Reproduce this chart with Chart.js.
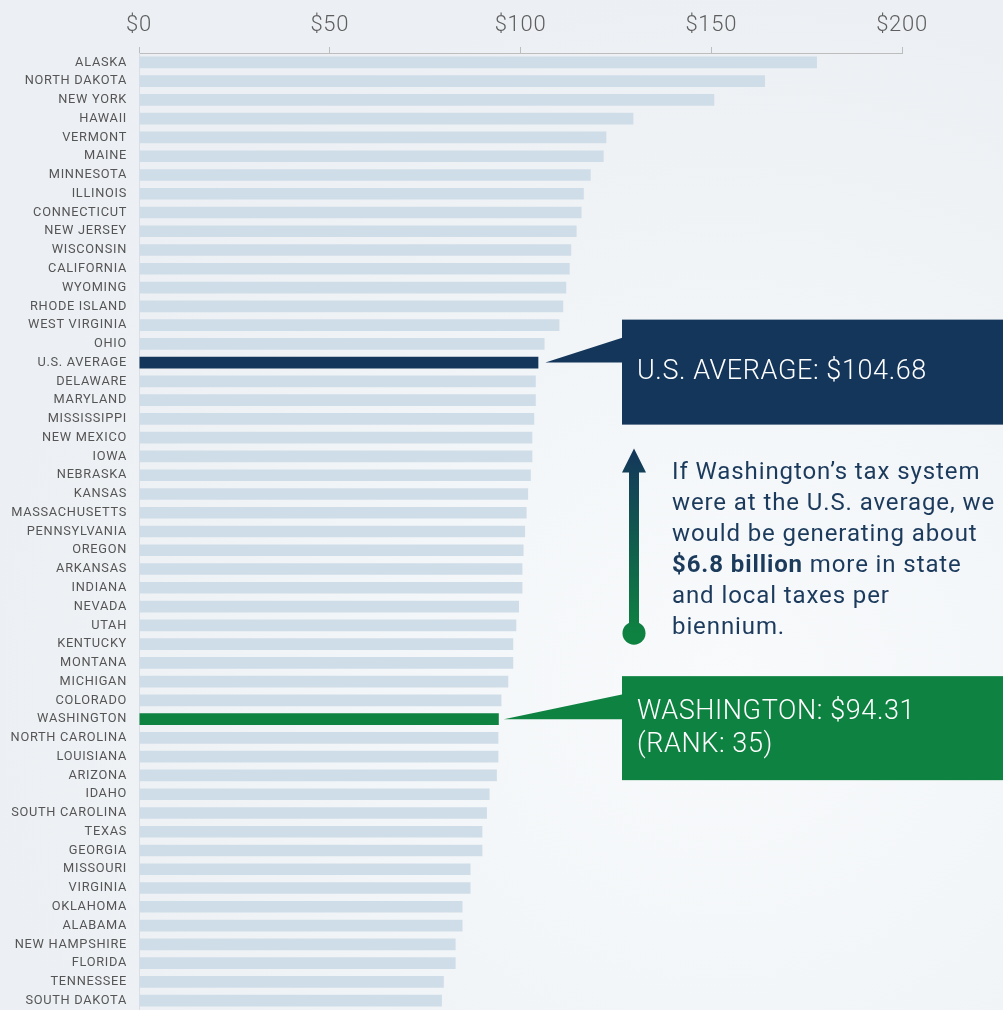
<!DOCTYPE html>
<html>
<head>
<meta charset="utf-8">
<script src="https://cdn.jsdelivr.net/npm/chart.js@4.4.1/dist/chart.umd.min.js"></script>
<style>
  html, body { margin: 0; padding: 0; }
  body {
    width: 1003px; height: 1010px; overflow: hidden;
    background: radial-gradient(ellipse 75% 70% at 72% 68%, #f8fafc 0%, #f3f6f8 45%, #eceff3 100%);
  }
  canvas { display: block; }
</style>
</head>
<body>
<canvas id="chart" width="1003" height="1010"></canvas>
<script>
// --- Data (top to bottom) ---
const states = [
  'ALASKA', 'NORTH DAKOTA', 'NEW YORK', 'HAWAII', 'VERMONT', 'MAINE', 'MINNESOTA', 'ILLINOIS',
  'CONNECTICUT', 'NEW JERSEY', 'WISCONSIN', 'CALIFORNIA', 'WYOMING', 'RHODE ISLAND', 'WEST VIRGINIA',
  'OHIO', 'U.S. AVERAGE', 'DELAWARE', 'MARYLAND', 'MISSISSIPPI', 'NEW MEXICO', 'IOWA', 'NEBRASKA',
  'KANSAS', 'MASSACHUSETTS', 'PENNSYLVANIA', 'OREGON', 'ARKANSAS', 'INDIANA', 'NEVADA', 'UTAH',
  'KENTUCKY', 'MONTANA', 'MICHIGAN', 'COLORADO', 'WASHINGTON', 'NORTH CAROLINA', 'LOUISIANA',
  'ARIZONA', 'IDAHO', 'SOUTH CAROLINA', 'TEXAS', 'GEORGIA', 'MISSOURI', 'VIRGINIA', 'OKLAHOMA',
  'ALABAMA', 'NEW HAMPSHIRE', 'FLORIDA', 'TENNESSEE', 'SOUTH DAKOTA'
];
const taxPer1000 = [
  177.7, 164.1, 150.8, 129.6, 122.5, 121.8, 118.4, 116.6,
  116.0, 114.7, 113.3, 112.9, 112.0, 111.2, 110.2,
  106.3, 104.68, 104.0, 104.0, 103.6, 103.1, 103.1, 102.7,
  102.0, 101.6, 101.2, 100.8, 100.5, 100.5, 99.6, 98.9,
  98.1, 98.1, 96.8, 95.0, 94.31, 94.2, 94.2,
  93.8, 91.9, 91.2, 90.0, 90.0, 86.9, 86.9, 84.8,
  84.8, 83.0, 83.0, 79.9, 79.4
];
const xTicks = [0, 50, 100, 150, 200];

const usLabel = 'U.S. AVERAGE';
const waLabel = 'WASHINGTON';
const waRank = 35;
const noteLines = [
  [{ t: 'If Washington\u2019s tax system' }],
  [{ t: 'were at the U.S. average, we' }],
  [{ t: 'would be generating about' }],
  [{ t: '$6.8 billion', b: true }, { t: ' more in state' }],
  [{ t: 'and local taxes per' }],
  [{ t: 'biennium.' }]
];

const colors = {
  bar: '#cfdde8',
  navy: '#14365b',
  green: '#0e8241',
  label: '#555555',
  tick: '#5e5e5e',
  axis: '#bdbdbd',
};

const usIdx = states.indexOf(usLabel);
const waIdx = states.indexOf(waLabel);

// --- Callouts, arrow and note drawn on top of the chart ---
const calloutPlugin = {
  id: 'callouts',
  beforeDraw(chart) {
    chart.ctx.letterSpacing = '0.7px';
  },
  afterDraw(chart) {
    const ctx = chart.ctx;
    const meta = chart.getDatasetMeta(0);
    const us = meta.data[usIdx];
    const wa = meta.data[waIdx];
    const boxX = 622, boxR = chart.width;

    ctx.save();

    // U.S. average box + pointer
    ctx.fillStyle = colors.navy;
    ctx.fillRect(boxX, us.y - 43, boxR - boxX, 105);
    ctx.beginPath();
    ctx.moveTo(us.x + 7, us.y);
    ctx.lineTo(boxX + 1, us.y - 25);
    ctx.lineTo(boxX + 1, us.y);
    ctx.closePath();
    ctx.fill();

    // Washington box + pointer
    ctx.fillStyle = colors.green;
    ctx.fillRect(boxX, wa.y - 43, boxR - boxX, 104);
    ctx.beginPath();
    ctx.moveTo(wa.x + 5, wa.y);
    ctx.lineTo(boxX + 1, wa.y - 25);
    ctx.lineTo(boxX + 1, wa.y);
    ctx.closePath();
    ctx.fill();

    ctx.fillStyle = '#ffffff';
    ctx.textBaseline = 'middle';
    ctx.textAlign = 'left';
    ctx.letterSpacing = '0.6px';
    ctx.font = '300 27px Roboto';
    ctx.fillText(usLabel + ': $' + taxPer1000[usIdx].toFixed(2), 637, us.y + 10);
    ctx.fillText(waLabel + ': $' + taxPer1000[waIdx].toFixed(2), 637, wa.y - 7);
    ctx.fillText('(RANK: ' + waRank + ')', 637, wa.y + 26);

    // gradient arrow from Washington up to the average
    const ax = 634, tipY = us.y + 86, headY = tipY + 24, dotY = wa.y - 86;
    const grad = ctx.createLinearGradient(0, tipY, 0, dotY);
    grad.addColorStop(0, colors.navy);
    grad.addColorStop(1, colors.green);
    ctx.fillStyle = grad;
    ctx.beginPath();
    ctx.moveTo(ax, tipY);
    ctx.lineTo(ax + 12, headY);
    ctx.lineTo(ax + 5, headY);
    ctx.lineTo(ax + 5, dotY);
    ctx.lineTo(ax - 5, dotY);
    ctx.lineTo(ax - 5, headY);
    ctx.lineTo(ax - 12, headY);
    ctx.closePath();
    ctx.fill();
    ctx.beginPath();
    ctx.arc(ax, dotY, 11.5, 0, Math.PI * 2);
    ctx.fill();

    // note text
    ctx.fillStyle = '#1b3a5c';
    ctx.letterSpacing = '0.9px';
    let y = us.y + 110;
    noteLines.forEach(line => {
      let x = 672;
      line.forEach(part => {
        ctx.font = (part.b ? '700 ' : '400 ') + '24px Roboto';
        ctx.fillText(part.t, x, y);
        x += ctx.measureText(part.t).width;
      });
      y += 31;
    });
    ctx.restore();
  }
};

const ctx = document.getElementById('chart').getContext('2d');
new Chart(ctx, {
  type: 'bar',
  data: {
    labels: states,
    datasets: [{
      data: taxPer1000,
      backgroundColor: states.map(s => s === usLabel ? colors.navy : s === waLabel ? colors.green : colors.bar),
      barPercentage: 0.62,
      categoryPercentage: 1,
    }]
  },
  options: {
    indexAxis: 'y',
    responsive: false,
    animation: false,
    layout: { padding: { left: 0, right: 101, top: 0, bottom: 0 } },
    plugins: { legend: { display: false }, tooltip: { enabled: false } },
    scales: {
      x: {
        position: 'top',
        min: xTicks[0], max: xTicks[xTicks.length - 1],
        afterBuildTicks: s => { s.ticks = xTicks.map(v => ({ value: v })); },
        ticks: {
          callback: v => '$' + v,
          color: colors.tick,
          font: { family: 'Roboto', size: 22, weight: 300 },
          padding: 8,
        },
        grid: { drawOnChartArea: false, tickLength: 6, color: colors.axis },
        border: { color: colors.axis },
        afterFit: s => { s.height = 53; s.paddingLeft = 0; s.paddingRight = 0; },
      },
      y: {
        ticks: {
          color: colors.label,
          font: { family: 'Roboto', size: 12.8 },
          padding: 4,
          autoSkip: false,
        },
        grid: { display: false },
        border: { color: '#d9dfe5' },
        afterFit: s => { s.width = 139; s.paddingTop = 0; s.paddingBottom = 0; },
      }
    }
  },
  plugins: [calloutPlugin]
});
</script>
</body>
</html>
